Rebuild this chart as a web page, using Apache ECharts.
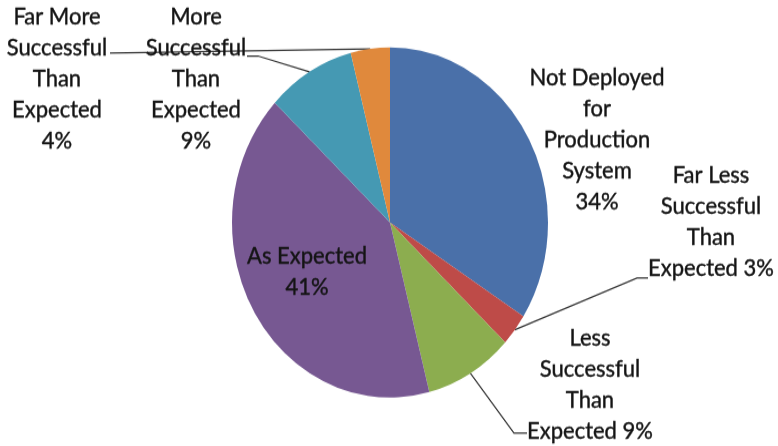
<!DOCTYPE html>
<html>
<head>
<meta charset="utf-8">
<script src="https://cdn.jsdelivr.net/npm/echarts@6/dist/echarts.min.js"></script>
<style>
  html, body { margin: 0; padding: 0; background: #fff; }
  #frame { width: 778px; height: 446px; overflow: hidden; position: relative; }
  #chart { position: absolute; left: 0; top: 0; width: 778px; transform-origin: 0 0; }
</style>
</head>
<body>
<div id="frame"><div id="chart"></div></div>
<script>
// Survey outcome shares (percent), clockwise from 12 o'clock
const categories = [
  'Not Deployed\nfor\nProduction\nSystem',
  'Far Less\nSuccessful\nThan\nExpected',
  'Less\nSuccessful\nThan\nExpected',
  'As Expected',
  'More\nSuccessful\nThan\nExpected',
  'Far More\nSuccessful\nThan\nExpected'
];
const shares = [34, 3, 9, 41, 9, 4];
const sliceColors = ['#4a70a9', '#be4b48', '#8cad4f', '#775892', '#4599b3', '#e0893c'];

// The pie is drawn round and stretched vertically to an oval.
const SY = 1.108;
const W = 778, H = 446;
const chartEl = document.getElementById('chart');
chartEl.style.height = (H / SY) + 'px';
chartEl.style.transform = 'scaleY(' + SY + ')';

// Label placement in page pixels: text centre, optional elbow, line end.
const labelSpots = [
  { c: [597, 139], inline: false },
  { c: [711, 222], inline: true, elbow: [637, 278], end: [648, 278] },
  { c: [590, 384], inline: true, elbow: [514, 433], end: [527, 433] },
  { c: [307, 271], inline: false, inside: true },
  { c: [196, 79], inline: false, elbow: [258, 56], end: [247, 56] },
  { c: [57, 79], inline: false, end: [110, 53] }
];
const toChart = p => [p[0], p[1] / SY];

const chart = echarts.init(chartEl, null, { renderer: 'canvas' });

const data = categories.map((name, i) => {
  const spot = labelSpots[i];
  const item = { name, value: shares[i], itemStyle: { color: sliceColors[i] } };
  if (spot.inside) {
    item.label = { position: 'inside' };
    item.labelLine = { show: false };
  } else if (!spot.end) {
    item.labelLine = { show: false };
  }
  return item;
});

chart.setOption({
  animation: false,
  series: [{
    type: 'pie',
    center: [390, 222.5 / SY],
    radius: 158,
    startAngle: 90,
    clockwise: true,
    avoidLabelOverlap: false,
    minShowLabelAngle: 0,
    data,
    itemStyle: { borderWidth: 0 },
    label: {
      show: true,
      position: 'outside',
      alignTo: 'none',
      color: '#141414',
      fontFamily: 'Lato, "Open Sans", sans-serif',
      fontSize: 22,
      lineHeight: 28,
      align: 'center',
      textBorderColor: '#141414',
      textBorderWidth: 0.4,
      formatter: p => p.name + (labelSpots[p.dataIndex].inline ? ' ' : '\n') + p.value + '%'
    },
    labelLine: {
      show: true,
      length: 10,
      length2: 10,
      smooth: false,
      lineStyle: { color: '#333', width: 1.2 }
    },
    emphasis: { disabled: true },
    labelLayout: params => {
      const spot = labelSpots[params.dataIndex];
      const c = toChart(spot.c);
      const out = { x: c[0], y: c[1], align: 'center', verticalAlign: 'middle', hideOverlap: false };
      if (spot.end && params.labelLinePoints) {
        const pts = [params.labelLinePoints[0]];
        if (spot.elbow) pts.push(toChart(spot.elbow));
        pts.push(toChart(spot.end));
        out.labelLinePoints = pts;
      }
      return out;
    }
  }]
});
</script>
</body>
</html>
